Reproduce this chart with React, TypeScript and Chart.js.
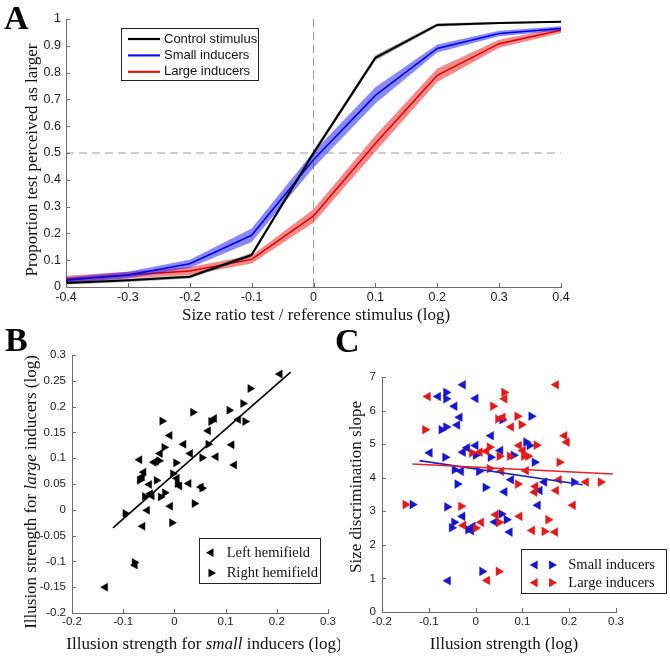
import React, { useEffect, useRef } from 'react';
import { Chart, registerables } from 'chart.js';

Chart.register(...registerables);

// ---------------- Panel A data ----------------
const A_X = [-0.4, -0.3, -0.2, -0.1, 0, 0.1, 0.2, 0.3, 0.4];
const A_CONTROL = [0.015, 0.025, 0.038, 0.12, 0.5, 0.855, 0.978, 0.985, 0.99];
const A_CONTROL_ERR = [0.006, 0.006, 0.006, 0.008, 0.01, 0.01, 0.006, 0.004, 0.003];
const A_SMALL = [0.025, 0.045, 0.087, 0.193, 0.475, 0.715, 0.89, 0.946, 0.965];
const A_SMALL_ERR = [0.01, 0.012, 0.015, 0.025, 0.03, 0.03, 0.015, 0.01, 0.008];
const A_LARGE = [0.03, 0.045, 0.06, 0.103, 0.265, 0.535, 0.79, 0.908, 0.958];
const A_LARGE_ERR = [0.012, 0.012, 0.015, 0.015, 0.025, 0.03, 0.025, 0.015, 0.01];
const A_SERIES = ['Control stimulus', 'Small inducers', 'Large inducers'];
const A_X_TICKS = [-0.4, -0.3, -0.2, -0.1, 0, 0.1, 0.2, 0.3, 0.4];
const A_Y_TICKS = [0, 0.1, 0.2, 0.3, 0.4, 0.5, 0.6, 0.7, 0.8, 0.9, 1];
const A_REF_X = 0;
const A_REF_Y = 0.5;
const A_X_TITLE = 'Size ratio test / reference stimulus (log)';
const A_Y_TITLE = 'Proportion test perceived as larger';

// ---------------- Panel B data ----------------
const B_LEFT: [number, number][] = [
  [0.206, 0.263], [0.125, 0.175], [0.066, 0.153], [0.078, 0.177], [-0.009, 0.144],
  [0.018, 0.127], [0.112, 0.126], [0.081, 0.103], [0.117, 0.087], [0.031, 0.109],
  [-0.068, 0.097], [-0.04, 0.092], [-0.06, 0.073], [-0.063, 0.064], [-0.049, 0.049],
  [0.005, 0.061], [0.01, 0.046], [0.028, 0.051], [0.052, 0.044], [-0.047, 0.031],
  [-0.044, 0.027], [-0.008, 0.007], [-0.053, -0.001], [-0.062, -0.032], [-0.077, -0.107],
  [-0.135, -0.15], [-0.036, 0.094], [-0.028, 0.109],
];
const B_RIGHT: [number, number][] = [
  [0.148, 0.235], [0.134, 0.206], [0.107, 0.193], [0.138, 0.171], [0.0715, 0.171],
  [0.036, 0.189], [-0.024, 0.172], [-0.02, 0.121], [0.066, 0.127], [0.054, 0.101],
  [0.003, 0.091], [-0.03, 0.095], [-0.068, 0.057], [-0.035, 0.057], [-0.003, 0.07],
  [0.006, 0.051], [0.054, 0.042], [-0.058, 0.026], [-0.019, 0.033], [-0.027, 0.025],
  [0.039, 0.012], [-0.096, -0.007], [-0.005, -0.025], [-0.078, -0.102],
];
const B_FIT_X = [-0.12, 0.227];
const B_FIT_Y = [-0.035, 0.267];
const B_SERIES = ['Left hemifield', 'Right hemifield'];
const B_X_TICKS = [-0.2, -0.1, 0, 0.1, 0.2, 0.3];
const B_Y_TICKS = [-0.2, -0.15, -0.1, -0.05, 0, 0.05, 0.1, 0.15, 0.2, 0.25, 0.3];
const B_X_TITLE: [string, boolean][] = [['Illusion strength for ', false], ['small', true], [' inducers (log)', false]];
const B_Y_TITLE: [string, boolean][] = [['Illusion strength for ', false], ['large', true], [' inducers (log)', false]];

// ---------------- Panel C data ----------------
const C_SMALL_LEFT: [number, number][] = [
  [-0.027, 6.77], [-0.08, 6.42], [-0.045, 6.13], [0.0, 6.36], [-0.034, 5.8],
  [-0.039, 5.57], [0.033, 5.25], [-0.098, 4.74], [-0.027, 4.76], [-0.018, 4.89],
  [0.0, 4.96], [0.053, 4.81], [-0.031, 4.19], [0.076, 3.94], [0.062, 3.58],
  [0.137, 3.62], [0.147, 3.87], [0.133, 3.18], [-0.028, 2.85], [-0.009, 2.42],
  [-0.006, 2.55], [0.041, 2.68], [0.073, 2.38], [-0.059, 0.93],
];
const C_SMALL_RIGHT: [number, number][] = [
  [-0.063, 6.54], [-0.063, 6.35], [-0.063, 5.51], [-0.073, 5.43], [0.119, 5.83],
  [0.057, 5.73], [-0.065, 4.61], [0.0, 4.67], [0.032, 4.61], [0.081, 4.67],
  [0.108, 5.06], [0.115, 4.96], [0.126, 4.46], [-0.045, 4.24], [0.007, 4.19],
  [-0.039, 3.81], [0.021, 3.71], [0.21, 3.87], [-0.135, 3.2], [-0.061, 3.13],
  [-0.046, 2.67], [-0.051, 2.51], [-0.016, 2.45], [0.055, 2.92], [0.066, 2.75],
  [0.014, 1.21],
];
const C_LARGE_LEFT: [number, number][] = [
  [-0.102, 6.42], [0.062, 6.35], [0.058, 5.8], [0.076, 5.51], [0.172, 6.77],
  [0.19, 5.25], [0.195, 5.06], [0.023, 4.79], [0.009, 4.76], [0.093, 4.96],
  [0.101, 4.81], [0.055, 4.19], [0.108, 4.21], [0.126, 3.57], [0.128, 3.74],
  [0.172, 3.62], [0.178, 3.94], [0.236, 3.87], [0.208, 3.18], [0.094, 2.85],
  [0.043, 2.9], [0.012, 2.67], [-0.026, 2.58], [0.121, 2.43], [0.17, 2.38],
  [0.025, 0.94],
];
const C_LARGE_RIGHT: [number, number][] = [
  [-0.108, 5.43], [-0.15, 3.2], [-0.031, 3.15], [0.037, 6.13], [0.061, 6.54],
  [0.048, 5.75], [0.089, 5.83], [0.098, 5.58], [0.03, 4.91], [-0.008, 4.74],
  [0.051, 4.64], [0.073, 4.64], [0.103, 4.64], [0.112, 4.64], [0.13, 4.97],
  [0.179, 4.46], [0.03, 4.27], [0.09, 3.81], [0.267, 3.87], [0.05, 2.67],
  [0.0, 2.5], [0.155, 2.75], [0.147, 2.4], [0.049, 1.21],
];
const C_SMALL_FIT_X = [-0.12, 0.229];
const C_SMALL_FIT_Y = [4.51, 3.79];
const C_LARGE_FIT_X = [-0.135, 0.293];
const C_LARGE_FIT_Y = [4.41, 4.11];
const C_SERIES = ['Small inducers', 'Large inducers'];
const C_X_TICKS = [-0.2, -0.1, 0, 0.1, 0.2, 0.3];
const C_Y_TICKS = [0, 1, 2, 3, 4, 5, 6, 7];
const C_X_TITLE = 'Illusion strength (log)';
const C_Y_TITLE = 'Size discrimination slope';

const PANEL_LABELS = ['A', 'B', 'C'];

// ---------------- styles ----------------
const AXIS = '#6b6b6b';
const TXT = '#111';
const SERIF = '"Liberation Serif", "Times New Roman", serif';
const SANS = '"Liberation Sans", Arial, sans-serif';
const BLUE = '#1616d0';
const RED = '#e31a1a';

const fmt = (v: number) => String(+Number(v).toFixed(2));

function axis(ticksArr: number[], min: number, max: number, size: number, isX: boolean, fontSize: number, pad: number) {
  return {
    type: 'linear' as const,
    min,
    max,
    afterBuildTicks: (s: any) => {
      s.ticks = ticksArr.map((v) => ({ value: v }));
    },
    afterFit: (s: any) => {
      if (isX) s.height = size;
      else s.width = size;
    },
    grid: { display: false, drawTicks: false },
    border: { display: true, color: AXIS, width: 1 },
    ticks: {
      font: { family: SANS, size: fontSize },
      color: '#1a1a1a',
      padding: pad,
      autoSkip: false,
      maxRotation: 0,
      callback: (v: any) => fmt(Number(v)),
    },
  };
}

const inTicks = {
  id: 'inTicks',
  afterDraw(chart: any) {
    const { ctx, chartArea: a } = chart;
    const xs = chart.scales.x;
    const ys = chart.scales.y;
    ctx.save();
    ctx.strokeStyle = AXIS;
    ctx.lineWidth = 1;
    ctx.beginPath();
    xs.ticks.forEach((t: any) => {
      const px = Math.round(xs.getPixelForValue(t.value)) + 0.5;
      ctx.moveTo(px, a.bottom);
      ctx.lineTo(px, a.bottom - 4);
    });
    ys.ticks.forEach((t: any) => {
      const py = Math.round(ys.getPixelForValue(t.value)) + 0.5;
      ctx.moveTo(a.left, py);
      ctx.lineTo(a.left + 4, py);
    });
    ctx.stroke();
    ctx.restore();
  },
};

function drawRich(ctx: CanvasRenderingContext2D, segs: [string, boolean][], cx: number, cy: number, rot: number, size: number) {
  ctx.save();
  ctx.translate(cx, cy);
  ctx.rotate(rot);
  const fonts = segs.map(([, it]) => `${it ? 'italic ' : ''}${size}px ${SERIF}`);
  let total = 0;
  const widths = segs.map(([t], i) => {
    ctx.font = fonts[i];
    const w = ctx.measureText(t).width;
    total += w;
    return w;
  });
  let x = -total / 2;
  ctx.textBaseline = 'middle';
  ctx.textAlign = 'left';
  ctx.fillStyle = TXT;
  segs.forEach(([t], i) => {
    ctx.font = fonts[i];
    ctx.fillText(t, x, 0);
    x += widths[i];
  });
  ctx.restore();
}

function tri(ctx: CanvasRenderingContext2D, x: number, y: number, r: number, deg: number, color: string) {
  let rad = (deg * Math.PI) / 180;
  ctx.beginPath();
  ctx.moveTo(x + Math.sin(rad) * r, y - Math.cos(rad) * r);
  rad += (2 * Math.PI) / 3;
  ctx.lineTo(x + Math.sin(rad) * r, y - Math.cos(rad) * r);
  rad += (2 * Math.PI) / 3;
  ctx.lineTo(x + Math.sin(rad) * r, y - Math.cos(rad) * r);
  ctx.closePath();
  ctx.fillStyle = color;
  ctx.fill();
}

function legendBox(ctx: CanvasRenderingContext2D, x: number, y: number, w: number, h: number) {
  ctx.fillStyle = '#fff';
  ctx.fillRect(x, y, w, h);
  ctx.strokeStyle = '#222';
  ctx.lineWidth = 1;
  ctx.strokeRect(x + 0.5, y + 0.5, w, h);
}

const overlayA = {
  id: 'overlayA',
  afterDraw(chart: any) {
    const ctx: CanvasRenderingContext2D = chart.ctx;
    ctx.save();
    drawRich(ctx, [[A_X_TITLE, false]], 316, 316, 0, 17);
    drawRich(ctx, [[A_Y_TITLE, false]], 33, 160, -Math.PI / 2, 17);
    legendBox(ctx, 121, 28, 137, 52);
    const cols = ['#000', '#1010e8', '#e81010'];
    A_SERIES.forEach((label, i) => {
      const y = 39 + i * 16.4;
      ctx.strokeStyle = cols[i];
      ctx.lineWidth = 2.2;
      ctx.beginPath();
      ctx.moveTo(128, y);
      ctx.lineTo(160, y);
      ctx.stroke();
      ctx.fillStyle = TXT;
      ctx.font = `13px ${SANS}`;
      ctx.textBaseline = 'middle';
      ctx.textAlign = 'left';
      ctx.fillText(label, 164, y);
    });
    ctx.restore();
  },
};

const overlayB = {
  id: 'overlayB',
  afterDraw(chart: any) {
    const ctx: CanvasRenderingContext2D = chart.ctx;
    ctx.save();
    drawRich(ctx, B_X_TITLE, 204, 315, 0, 17);
    drawRich(ctx, B_Y_TITLE, 32, 162, -Math.PI / 2, 17);
    legendBox(ctx, 199, 208, 121, 45);
    const dirs = [-90, 90];
    B_SERIES.forEach((label, i) => {
      const y = 222.7 + i * 20.3;
      tri(ctx, 211, y, 5, dirs[i], '#000');
      ctx.fillStyle = TXT;
      ctx.font = `14.5px ${SERIF}`;
      ctx.textBaseline = 'middle';
      ctx.textAlign = 'left';
      ctx.fillText(label, 226.7, y + 0.5);
    });
    ctx.restore();
  },
};

const overlayC = {
  id: 'overlayC',
  afterDraw(chart: any) {
    const ctx: CanvasRenderingContext2D = chart.ctx;
    ctx.save();
    drawRich(ctx, [[C_X_TITLE, false]], 164, 315, 0, 17);
    drawRich(ctx, [[C_Y_TITLE, false]], 17, 157, -Math.PI / 2, 17);
    legendBox(ctx, 181, 219, 145, 44);
    const cols = [BLUE, RED];
    C_SERIES.forEach((label, i) => {
      const y = 235 + i * 17.7;
      tri(ctx, 195, y, 5.3, -90, cols[i]);
      tri(ctx, 211.7, y, 5.3, 90, cols[i]);
      ctx.fillStyle = TXT;
      ctx.font = `14.5px ${SERIF}`;
      ctx.textBaseline = 'middle';
      ctx.textAlign = 'left';
      ctx.fillText(label, 228.3, y + 0.5);
    });
    ctx.restore();
  },
};

const pts = (arr: [number, number][]) => arr.map(([x, y]) => ({ x, y }));
const xy = (xs: number[], ys: number[]) => xs.map((x, i) => ({ x, y: ys[i] }));

function band(mean: number[], err: number[], color: string, lineColor: string, lw: number) {
  return [
    {
      data: xy(A_X, mean),
      borderColor: lineColor,
      borderWidth: lw,
      pointRadius: 0,
      fill: false,
      tension: 0,
    },
    {
      data: xy(A_X, mean.map((m, i) => m + err[i])),
      borderColor: 'rgba(0,0,0,0)',
      borderWidth: 0,
      pointRadius: 0,
      backgroundColor: color,
      fill: '+1',
      tension: 0,
    },
    {
      data: xy(A_X, mean.map((m, i) => m - err[i])),
      borderColor: 'rgba(0,0,0,0)',
      borderWidth: 0,
      pointRadius: 0,
      fill: false,
      tension: 0,
    },
  ];
}

function scatterSet(arr: [number, number][], color: string, rot: number, r: number) {
  return {
    data: pts(arr),
    pointStyle: 'triangle',
    rotation: rot,
    pointRadius: r,
    backgroundColor: color,
    borderColor: color,
    borderWidth: 0.5,
    showLine: false,
  };
}

function fitSet(xs: number[], ys: number[], color: string) {
  return {
    data: xy(xs, ys),
    showLine: true,
    borderColor: color,
    borderWidth: 1.6,
    pointRadius: 0,
    fill: false,
  };
}

const basePlugins = { legend: { display: false }, tooltip: { enabled: false } };

export default function App() {
  const refA = useRef<HTMLCanvasElement>(null);
  const refB = useRef<HTMLCanvasElement>(null);
  const refC = useRef<HTMLCanvasElement>(null);

  useEffect(() => {
    const charts: Chart[] = [];

    charts.push(
      new Chart(refA.current!, {
        type: 'line',
        data: {
          datasets: [
            ...band(A_CONTROL, A_CONTROL_ERR, 'rgba(0,0,0,0.35)', '#000', 2),
            ...band(A_SMALL, A_SMALL_ERR, 'rgba(20,20,255,0.5)', '#0000e6', 1.5),
            ...band(A_LARGE, A_LARGE_ERR, 'rgba(235,20,20,0.5)', '#dc0000', 1.5),
            {
              data: [{ x: A_REF_X, y: 0 }, { x: A_REF_X, y: 1 }],
              borderColor: '#9a9a9a',
              borderWidth: 1,
              borderDash: [8, 5],
              pointRadius: 0,
              fill: false,
            },
            {
              data: [{ x: -0.4, y: A_REF_Y }, { x: 0.4, y: A_REF_Y }],
              borderColor: '#9a9a9a',
              borderWidth: 1,
              borderDash: [8, 5],
              pointRadius: 0,
              fill: false,
            },
          ] as any,
        },
        options: {
          responsive: false,
          animation: false,
          layout: { padding: { top: 19, right: 109, bottom: 0, left: 0 } },
          scales: {
            x: axis(A_X_TICKS, -0.4, 0.4, 43, true, 12.5, 3) as any,
            y: axis(A_Y_TICKS, 0, 1, 66, false, 12.5, 5) as any,
          },
          plugins: basePlugins as any,
        },
        plugins: [inTicks, overlayA],
      })
    );

    charts.push(
      new Chart(refB.current!, {
        type: 'scatter',
        data: {
          datasets: [
            fitSet(B_FIT_X, B_FIT_Y, '#000'),
            scatterSet(B_LEFT, '#000', -90, 4.6),
            scatterSet(B_RIGHT, '#000', 90, 4.6),
          ] as any,
        },
        options: {
          responsive: false,
          animation: false,
          layout: { padding: { top: 25, right: 12, bottom: 0, left: 0 } },
          scales: {
            x: axis(B_X_TICKS, -0.2, 0.3, 44, true, 11.5, 2) as any,
            y: axis(B_Y_TICKS, -0.2, 0.3, 72, false, 11.5, 6) as any,
          },
          plugins: basePlugins as any,
        },
        plugins: [inTicks, overlayB],
      })
    );

    charts.push(
      new Chart(refC.current!, {
        type: 'scatter',
        data: {
          datasets: [
            fitSet(C_LARGE_FIT_X, C_LARGE_FIT_Y, '#e62020'),
            fitSet(C_SMALL_FIT_X, C_SMALL_FIT_Y, '#2020c8'),
            scatterSet(C_LARGE_LEFT, RED, -90, 5),
            scatterSet(C_LARGE_RIGHT, RED, 90, 5),
            scatterSet(C_SMALL_LEFT, BLUE, -90, 5),
            scatterSet(C_SMALL_RIGHT, BLUE, 90, 5),
          ] as any,
        },
        options: {
          responsive: false,
          animation: false,
          layout: { padding: { top: 47, right: 54, bottom: 0, left: 0 } },
          scales: {
            x: axis(C_X_TICKS, -0.2, 0.3, 45, true, 11.5, 2.5) as any,
            y: axis(C_Y_TICKS, 0, 7, 42, false, 11.5, 6) as any,
          },
          plugins: basePlugins as any,
        },
        plugins: [inTicks, overlayC],
      })
    );

    return () => charts.forEach((c) => c.destroy());
  }, []);

  const letter = (text: string, left: number, top: number) => (
    <div
      key={text}
      style={{
        position: 'absolute',
        left,
        top,
        fontFamily: SERIF,
        fontWeight: 'bold',
        fontSize: 34,
        lineHeight: '34px',
        color: '#000',
        zIndex: 2,
      }}
    >
      {text}
    </div>
  );

  return (
    <div style={{ position: 'absolute', left: 0, top: 0, width: 670, height: 657, background: '#fff', overflow: 'hidden' }}>
      <canvas ref={refA} width={670} height={330} style={{ position: 'absolute', left: 0, top: 0, width: 670, height: 330 }} />
      <canvas ref={refB} width={340} height={327} style={{ position: 'absolute', left: 0, top: 330, width: 340, height: 327 }} />
      <canvas ref={refC} width={330} height={327} style={{ position: 'absolute', left: 340, top: 330, width: 330, height: 327 }} />
      {letter(PANEL_LABELS[0], 4, 1)}
      {letter(PANEL_LABELS[1], 5, 323)}
      {letter(PANEL_LABELS[2], 335, 324)}
    </div>
  );
}
